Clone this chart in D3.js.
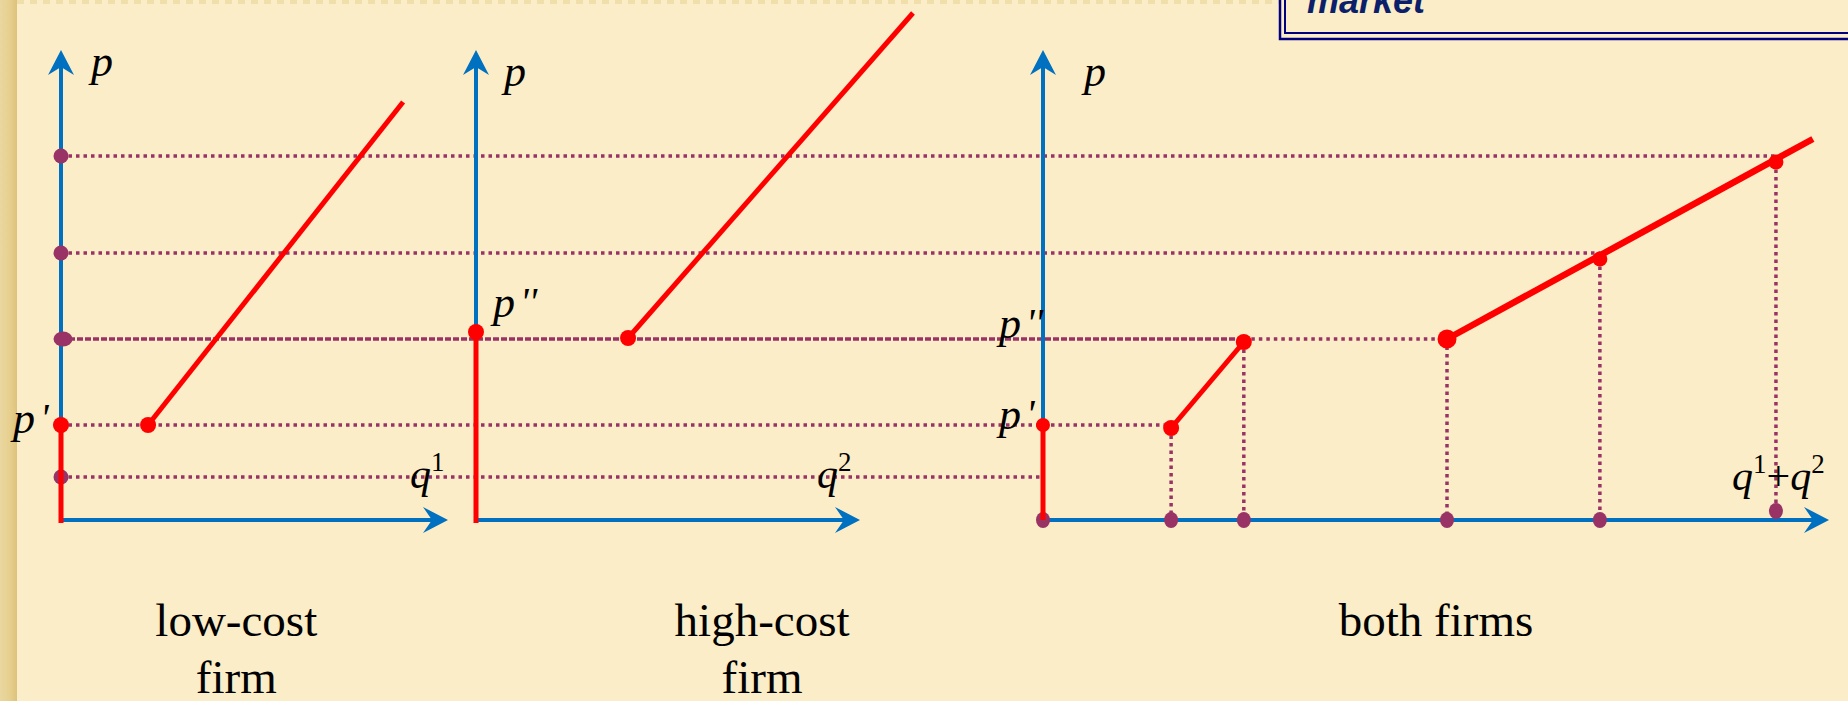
<!DOCTYPE html>
<html><head><meta charset="utf-8">
<script src="https://cdn.jsdelivr.net/npm/d3@7"></script>
<style>html,body{margin:0;padding:0;background:#FBEDC7;overflow:hidden}</style>
</head><body><svg id="c" width="1848" height="701"></svg>
<script>
// ---------------- data ----------------
const priceLevels   = [8.6, 19, 36.2, 53.4, 72.8];        // guide price levels (p0, p', p'', p3, p4)
const levelEndsQ    = [0, 32.6, 102.8, 141.7, 186.5];     // where each guide reaches in the market panel
const lowCostVert   = [[0, -0.6], [0, 19]];
const lowCostSupply = [[22.5, 19], [88.4, 83.6]];
const highCostVert  = [[0, -0.6], [0, 37.6]];
const highCostSupply= [[39.6, 36.4], [113.8, 101.4]];
const marketVert    = [[0, 0], [0, 19]];
const marketSeg1    = [[32.6, 18.4], [51.1, 35.6]];
const marketSeg2    = [[102.8, 36.2], [195.9, 76.2]];
const marketOnLine  = [[141.7, 52.2], [186.5, 71.6]];
const marketQ       = [0, 32.6, 51.1, 102.8, 141.7, 186.5];
const marketQBase   = [0, 0, 0, 0, 0, 1.8];
const marketQTop    = [0, 18.4, 35.6, 36.2, 52.2, 71.6];
const panelTitles   = [["low-cost", "firm"], ["high-cost", "firm"], ["both firms"]];
const priceAxisName = "p";
const primeLabels   = ["p′", "p″"];
const qAxisNames    = [[["q", "1"]], [["q", "2"]], [["q", "1"], ["+", ""], ["q", "2"]]];
const boxTitle      = "market";

// ---------------- scales ----------------
const y  = d3.scaleLinear().domain([0, 94]).range([520, 50]);
const x1 = d3.scaleLinear().domain([0, 100]).range([61, 448]);
const x2 = d3.scaleLinear().domain([0, 100]).range([476, 860]);
const x3 = d3.scaleLinear().domain([0, 200]).range([1043, 1829]);

const BLUE = "#0070C0", RED = "#FF0000", PURP = "#993366";
const svg = d3.select("#c");

// ---------------- background ----------------
const defs = svg.append("defs");
const lg = defs.append("linearGradient").attr("id", "lb").attr("x1", 0).attr("x2", 1).attr("y1", 0).attr("y2", 0);
lg.append("stop").attr("offset", 0).attr("stop-color", "#EAD7A0");
lg.append("stop").attr("offset", 0.55).attr("stop-color", "#E7D08F");
lg.append("stop").attr("offset", 1).attr("stop-color", "#DDC27C");
svg.append("rect").attr("width", 1848).attr("height", 701).attr("fill", "#FBEDC7");
svg.append("rect").attr("x", 0).attr("y", 0).attr("width", 17).attr("height", 701).attr("fill", "url(#lb)");
svg.append("line").attr("x1", 17).attr("x2", 1848).attr("y1", 2).attr("y2", 2)
  .attr("stroke", "#F0DEAB").attr("stroke-width", 4).attr("stroke-dasharray", "7,6");

// title box (top right)
const bx = svg.append("g");
bx.append("rect").attr("x", 1280).attr("y", -20).attr("width", 600).attr("height", 59)
  .attr("fill", "#FBEDC7").attr("stroke", "#000080").attr("stroke-width", 2.5);
bx.append("rect").attr("x", 1285).attr("y", -20).attr("width", 600).attr("height", 53)
  .attr("fill", "none").attr("stroke", "#000080").attr("stroke-width", 2);
bx.append("text").attr("x", 1307).attr("y", 13).text(boxTitle)
  .attr("font-family", "Liberation Sans, Arial, sans-serif").attr("font-weight", "bold")
  .attr("font-style", "italic").attr("font-size", 36).attr("fill", "#0B1F6B");

// ---------------- guides ----------------
const g = svg.append("g");
const dash = "3.5,4";
priceLevels.forEach((p, i) => {
  if (i === 2) {
    g.append("line").attr("x1", x1(0)).attr("x2", x3(marketSeg1[1][0])).attr("y1", y(p)).attr("y2", y(p))
      .attr("stroke", PURP).attr("stroke-width", 3.5).attr("stroke-dasharray", "6,2");
    g.append("line").attr("x1", x3(marketSeg1[1][0])).attr("x2", x3(levelEndsQ[i])).attr("y1", y(p)).attr("y2", y(p))
      .attr("stroke", PURP).attr("stroke-width", 3.5).attr("stroke-dasharray", dash);
  } else {
    g.append("line").attr("x1", x1(0)).attr("x2", x3(levelEndsQ[i])).attr("y1", y(p)).attr("y2", y(p))
      .attr("stroke", PURP).attr("stroke-width", 3.5).attr("stroke-dasharray", dash);
  }
});
marketQ.forEach((q, i) => {
  if (i === 0) return;
  g.append("line").attr("x1", x3(q)).attr("x2", x3(q)).attr("y1", y(marketQTop[i])).attr("y2", y(marketQBase[i]))
    .attr("stroke", PURP).attr("stroke-width", 3.5).attr("stroke-dasharray", dash);
});

// ---------------- axes ----------------
function arrowPath(tx, ty, dir) {
  if (dir === "up") return `M${tx},${ty} L${tx + 13},${ty + 25} L${tx},${ty + 17} L${tx - 13},${ty + 25} Z`;
  return `M${tx},${ty} L${tx - 25},${ty - 13} L${tx - 16},${ty} L${tx - 25},${ty + 13} Z`;
}
const ax = svg.append("g");
[x1, x2, x3].forEach(xs => {
  const x0 = xs.range()[0], xe = xs.range()[1];
  const y0 = y.range()[0], ye = y.range()[1];
  ax.append("line").attr("x1", x0).attr("x2", x0).attr("y1", y0 + 2).attr("y2", ye + 14)
    .attr("stroke", BLUE).attr("stroke-width", 4);
  ax.append("line").attr("x1", x0 - 2).attr("x2", xe - 14).attr("y1", y0).attr("y2", y0)
    .attr("stroke", BLUE).attr("stroke-width", 4);
  ax.append("path").attr("d", arrowPath(x0, ye, "up")).attr("fill", BLUE);
  ax.append("path").attr("d", arrowPath(xe, y0, "right")).attr("fill", BLUE);
});

// ---------------- purple dots ----------------
const pd = svg.append("g").attr("fill", PURP);
priceLevels.forEach((p, i) => {
  pd.append("ellipse").attr("cx", x1(0) + (i === 2 ? 2 : 0)).attr("cy", y(p))
    .attr("rx", i === 2 ? 9.5 : 7.5).attr("ry", 7.5);
});
marketQ.forEach((q, i) => {
  pd.append("ellipse").attr("cx", x3(q)).attr("cy", y(marketQBase[i])).attr("rx", 7).attr("ry", 8);
});

// ---------------- supply curves ----------------
const line = (xs) => d3.line().x(d => xs(d[0])).y(d => y(d[1]));
const sc = svg.append("g").attr("fill", "none").attr("stroke", RED);
sc.append("path").attr("d", line(x1)(lowCostVert)).attr("stroke-width", 5);
sc.append("path").attr("d", line(x1)(lowCostSupply)).attr("stroke-width", 5);
sc.append("path").attr("d", line(x2)(highCostVert)).attr("stroke-width", 5);
sc.append("path").attr("d", line(x2)(highCostSupply)).attr("stroke-width", 5);
sc.append("path").attr("d", line(x3)(marketVert)).attr("stroke-width", 5);
sc.append("path").attr("d", line(x3)(marketSeg1)).attr("stroke-width", 5);
sc.append("path").attr("d", line(x3)(marketSeg2)).attr("stroke-width", 6.5);

const rd = svg.append("g").attr("fill", RED);
const dot = (xs, d, r) => rd.append("circle").attr("cx", xs(d[0])).attr("cy", y(d[1])).attr("r", r);
dot(x1, lowCostVert[1], 8); dot(x1, lowCostSupply[0], 8);
dot(x2, highCostVert[1], 8); dot(x2, highCostSupply[0], 8);
dot(x3, marketVert[1], 7); dot(x3, marketSeg1[0], 8); dot(x3, marketSeg1[1], 8);
dot(x3, marketSeg2[0], 9.5);
marketOnLine.forEach(d => dot(x3, d, 7.5));

// ---------------- labels ----------------
const SERIF = "Liberation Serif, Times New Roman, serif";
const lab = svg.append("g").attr("font-family", SERIF).attr("fill", "#000");
// axis names p
[[x1, 30, 76], [x2, 28, 86], [x3, 41, 86]].forEach(([xs, dx, by]) => {
  lab.append("text").attr("x", xs(0) + dx).attr("y", by).attr("font-size", 44)
    .attr("font-style", "italic").text(priceAxisName);
});
// p' and p''
function primeText(px, py, s) {
  const t = lab.append("text").attr("x", px).attr("y", py).attr("font-size", 44).attr("font-style", "italic");
  t.append("tspan").text(s[0]);
  t.append("tspan").attr("dx", 5).attr("dy", -2).attr("font-size", 40).text(s[1] === "′" ? "'" : "''");
}
primeText(x1(0) - 48, y(priceLevels[1]) + 8, primeLabels[0]);
primeText(x2(0) + 17, y(priceLevels[2]) - 22, primeLabels[1]);
primeText(x3(0) - 44, y(priceLevels[1]) + 4, primeLabels[0]);
primeText(x3(0) - 44, y(priceLevels[2]) - 1, primeLabels[1]);
// q axis names
function qText(px, py, parts) {
  const t = lab.append("text").attr("x", px).attr("y", py).attr("font-size", 42);
  let raised = false;
  parts.forEach(([b, s]) => {
    const base = t.append("tspan").text(b).attr("dy", raised ? 17 : 0);
    raised = false;
    if (b !== "+") base.attr("font-style", "italic");
    if (s) {
      t.append("tspan").attr("dy", -17).attr("font-size", 27).text(s);
      raised = true;
    }
  });
}
qText(x1.range()[1] - 38, 488, qAxisNames[0]);
qText(x2.range()[1] - 43, 488, qAxisNames[1]);
qText(x3.range()[1] - 97, 490, qAxisNames[2]);
// panel titles
[[x1, 0.453], [x2, 0.745], [x3, 0.50]].forEach(([xs, f], i) => {
  const cx = xs.range()[0] + (xs.range()[1] - xs.range()[0]) * f;
  panelTitles[i].forEach((s, k) => {
    lab.append("text").attr("x", cx).attr("y", 636 + k * 57).attr("text-anchor", "middle")
      .attr("font-size", 47).text(s);
  });
});
</script></body></html>
